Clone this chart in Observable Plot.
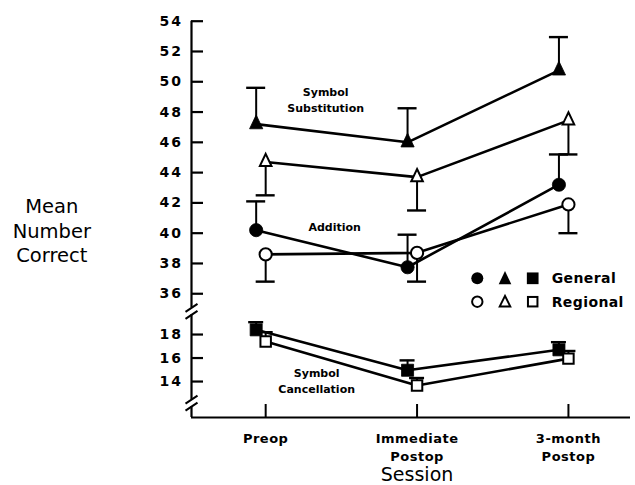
<!DOCTYPE html>
<html>
<head>
<meta charset="utf-8">
<script src="https://cdn.jsdelivr.net/npm/d3@7"></script>
<script src="https://cdn.jsdelivr.net/npm/@observablehq/plot@0.6"></script>
<style>
  body { margin: 0; background: #fff; }
  #wrap { position: relative; width: 635px; height: 485px; font-family: "DejaVu Sans", sans-serif; }
  #legend { position: absolute; left: 0; top: 0; pointer-events: none; }
</style>
</head>
<body>
<div id="wrap"></div>
<script>
// ---- data ----
const sessions = ["Preop", "Immediate\nPostop", "3-month\nPostop"];
const sessionIndex = [0, 1, 2];

const substitutionGeneral    = [47.2, 46.0, 50.75];
const substitutionGeneralErr = [49.6, 48.25, 52.95];
const substitutionRegional    = [44.7, 43.7, 47.45];
const substitutionRegionalErr = [42.5, 41.5, 45.2];

const additionGeneral    = [40.2, 37.75, 43.2];
const additionGeneralErr = [42.1, 39.9, 45.2];
const additionRegional    = [38.6, 38.7, 41.9];
const additionRegionalErr = [36.8, 36.8, 40.0];

const cancellationGeneral    = [18.4, 14.96, 16.7];
const cancellationGeneralErr = [19.05, 15.8, 17.35];
const cancellationRegional    = [17.4, 13.66, 15.95];
const cancellationRegionalErr = [18.2, 14.3, 16.6];

const yTicks = [14, 16, 18, 36, 38, 40, 42, 44, 46, 48, 50, 52, 54];
const legendLabels = ["General", "Regional"];
const testLabels = ["Symbol\nSubstitution", "Addition", "Symbol\nCancellation"];

// ---- scale configuration (broken axis: lower 10.9–19.9, upper 34.9–54) ----
const W = 635, H = 485;
const mL = 191, mR = 5, mT = 21, mB = 68;
const xDomain = [-0.49, 2.41];
const yDomain = [10.94, 19.9, 34.9, 54];
const yRange  = [417, 311.7, 309.9, 20.7];
const axisSegments = [[54, 35.07], [19.68, 12.47], [11.87, 10.94]];
const breakValues = [27.4, 12.17];

// ---- symbols ----
const triangleSymbol = {
  draw(context, size) {
    const r = Math.sqrt(size / Math.PI);
    const w = 2 * r, h = 2.1 * r;
    context.moveTo(0, -2 * h / 3);
    context.lineTo(w / 2, h / 3);
    context.lineTo(-w / 2, h / 3);
    context.closePath();
  }
};
const breakSymbol = {
  draw(context) {
    for (const o of [-3.5, 3.5]) {
      context.moveTo(-6, o + 4);
      context.lineTo(6, o - 4);
    }
  }
};

const tests = [
  {name: "substitution", label: testLabels[0], general: substitutionGeneral, generalErr: substitutionGeneralErr,
   regional: substitutionRegional, regionalErr: substitutionRegionalErr, symbol: triangleSymbol, rG: 6.6, rR: 5.8, cap: 9.5},
  {name: "addition", label: testLabels[1], general: additionGeneral, generalErr: additionGeneralErr,
   regional: additionRegional, regionalErr: additionRegionalErr, symbol: "circle", rG: 6.6, rR: 6.1, cap: 9.5},
  {name: "cancellation", label: testLabels[2], general: cancellationGeneral, generalErr: cancellationGeneralErr,
   regional: cancellationRegional, regionalErr: cancellationRegionalErr, symbol: "square", rG: 6.8, rR: 5.9, cap: 7.5}
];

const rows = [];
for (const t of tests) {
  for (const kind of legendLabels) {
    const vals = kind === "General" ? t.general : t.regional;
    const errs = kind === "General" ? t.generalErr : t.regionalErr;
    vals.forEach((v, i) => rows.push({test: t.name, kind, key: t.name + kind, i: sessionIndex[i], v, e: errs[i]}));
  }
}
const GEN_DX = -9.5;

const marks = [];
// axis lines
marks.push(Plot.ruleX(axisSegments, {x: () => xDomain[0], y1: d => d[0], y2: d => d[1], stroke: "black", strokeWidth: 2.2}));
marks.push(Plot.ruleY([yDomain[0]], {stroke: "black", strokeWidth: 2.2}));
marks.push(Plot.dot(breakValues, {x: () => xDomain[0], y: d => d, symbol: breakSymbol, r: 5, fill: "none", stroke: "black", strokeWidth: 2}));
// tick marks (pointing inward)
marks.push(Plot.tickY(yTicks, {y: d => d, insetRight: (W - mL - mR) - 12, stroke: "black", strokeWidth: 2.2}));
marks.push(Plot.tickX(sessionIndex, {x: d => d, insetTop: (H - mT - mB) - 13, stroke: "black", strokeWidth: 2}));
// axes
marks.push(Plot.axisY(yTicks, {tickSize: 0, tickPadding: 8.5, fontSize: 14, fontWeight: "bold", label: null}));
marks.push(Plot.axisX(sessionIndex, {tickFormat: i => sessions[i], tickSize: 0, tickPadding: 12, fontSize: 13, fontWeight: "bold", lineHeight: 1.42, label: null}));

for (const kind of legendLabels) {
  const dx = kind === "General" ? GEN_DX : 0;
  const data = rows.filter(d => d.kind === kind);
  marks.push(Plot.line(data, {x: "i", y: "v", z: "key", dx, stroke: "black", strokeWidth: 2.6}));
}
for (const t of tests) {
  for (const kind of legendLabels) {
    const dx = kind === "General" ? GEN_DX : 0;
    const data = rows.filter(d => d.kind === kind && d.test === t.name);
    marks.push(Plot.ruleX(data, {x: "i", y1: "v", y2: "e", dx, stroke: "black", strokeWidth: 2}));
    marks.push(Plot.ruleY(data, {x1: "i", x2: "i", y: "e", dx, insetLeft: -t.cap, insetRight: -t.cap, stroke: "black", strokeWidth: 2.4}));
  }
}
for (const kind of legendLabels) {
  for (const t of tests) {
    const general = kind === "General";
    const data = rows.filter(d => d.kind === kind && d.test === t.name);
    marks.push(Plot.dot(data, {
      x: "i", y: "v", dx: general ? GEN_DX : 0, symbol: t.symbol,
      r: general ? t.rG : t.rR,
      fill: general ? "black" : "white", stroke: "black", strokeWidth: general ? 0.8 : 2
    }));
  }
}
// test labels anchored to the Preop General points
const labelAnchors = [
  {t: tests[0], dx: 60, dy: -12.3},
  {t: tests[1], dx: 69, dy: 0.4},
  {t: tests[2], dx: 51, dy: 62.8}
];
for (const a of labelAnchors) {
  marks.push(Plot.text([a.t], {
    x: () => sessionIndex[0], y: d => d.general[0], text: d => d.label,
    dx: a.dx, dy: a.dy, lineAnchor: "bottom", lineHeight: 1.45,
    fontSize: 11, fontWeight: "bold", fill: "black"
  }));
}
// axis titles
marks.push(Plot.text(["Mean\nNumber\nCorrect"], {frameAnchor: "left", dx: -139.7, dy: 10, lineHeight: 1.28, fontSize: 19.5, textAnchor: "middle", fill: "black"}));
marks.push(Plot.text(["Session"], {x: () => sessionIndex[1], frameAnchor: "bottom", dy: 63.5, lineAnchor: "bottom", fontSize: 19, fill: "black"}));

const chart = Plot.plot({
  width: W, height: H,
  marginLeft: mL, marginRight: mR, marginTop: mT, marginBottom: mB,
  x: {type: "linear", domain: xDomain, label: null},
  y: {type: "linear", domain: yDomain, range: yRange, label: null},
  style: {fontFamily: "DejaVu Sans", color: "black", background: "white", overflow: "visible"},
  marks
});
// wider letter spacing on tick labels, as in the reference typesetting
chart.querySelectorAll('g[aria-label="y-axis tick label"] text').forEach(t => t.setAttribute("letter-spacing", "2"));
chart.querySelectorAll('g[aria-label="x-axis tick label"] text').forEach(t => t.setAttribute("letter-spacing", "0.5"));
const wrap = document.getElementById("wrap");
wrap.appendChild(chart);

// ---- legend (HTML overlay) ----
const lg = d3.select(wrap).append("svg").attr("id", "legend").attr("width", W).attr("height", H);
const rowsY = [278.3, 301.7];
legendLabels.forEach((lab, k) => {
  const cy = rowsY[k];
  const filled = k === 0;
  const fill = filled ? "black" : "white";
  const sw = filled ? 0 : 2;
  lg.append("circle").attr("cx", 477.3).attr("cy", cy).attr("r", filled ? 6 : 5.2)
    .attr("fill", fill).attr("stroke", "black").attr("stroke-width", sw);
  const th = filled ? 13.3 : 10.5, tw = filled ? 12.6 : 10.5;
  lg.append("path")
    .attr("d", `M${505},${cy - th * 0.55}L${505 + tw / 2},${cy + th * 0.45}L${505 - tw / 2},${cy + th * 0.45}Z`)
    .attr("fill", fill).attr("stroke", "black").attr("stroke-width", sw);
  const s = filled ? 11.7 : 9.5;
  lg.append("rect").attr("x", 532.7 - s / 2).attr("y", cy - s / 2).attr("width", s).attr("height", s)
    .attr("fill", fill).attr("stroke", "black").attr("stroke-width", sw);
  lg.append("text").attr("x", 551.7).attr("y", cy + 5).text(lab)
    .attr("font-family", "DejaVu Sans").attr("font-weight", "bold").attr("font-size", 14)
    .attr("letter-spacing", 0.4).attr("fill", "black");
});
</script>
</body>
</html>
